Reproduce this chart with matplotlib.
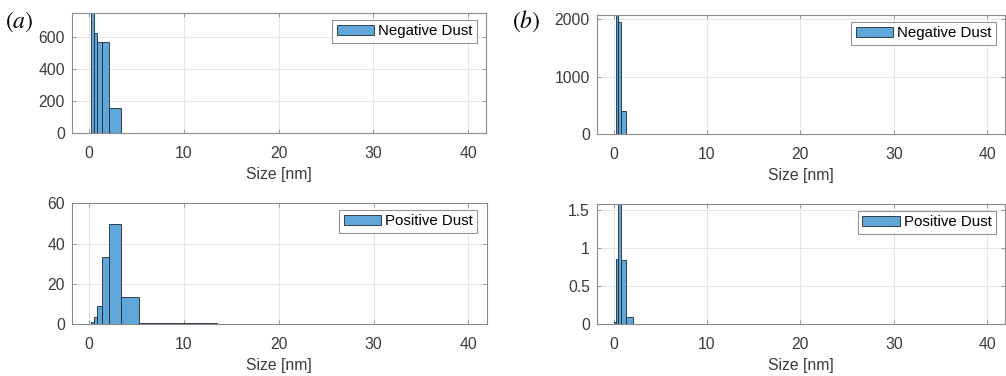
import matplotlib.pyplot as plt
import numpy as np

plt.rcParams['font.family'] = ['Liberation Sans', 'DejaVu Sans']
plt.rcParams['mathtext.fontset'] = 'stix'

# histogram bin edges [nm] and counts
bin_edges = np.array([0.1, 0.22, 0.5, 0.82, 1.32, 2.1, 3.35, 5.3, 8.5, 13.5])
neg_a = [0, 1000, 630, 570, 570, 160, 5, 0, 0]
pos_a = [0, 1.0, 3.5, 9, 33.5, 49.5, 13.5, 0.4, 0.3]
neg_b = [0, 2500, 1950, 400, 10, 3, 0, 0, 0]
pos_b = [0.03, 0.85, 2.5, 0.84, 0.09, 0, 0.005, 0, 0]

x_ticks = [0, 10, 20, 30, 40]
yt_neg_a = [0, 200, 400, 600]
yt_pos_a = [0, 20, 40, 60]
yt_neg_b = [0, 1000, 2000]
yt_pos_b = [0, 0.5, 1, 1.5]
yl_pos_b = ['0', '0.5', '1', '1.5']

W, H = 1006, 376
fig = plt.figure(figsize=(W / 100, H / 100), dpi=100)

def px_axes(l, r, t, b):
    return fig.add_axes([l / W, 1 - b / H, (r - l) / W, (b - t) / H])

bar_col = '#5fa6d9'
edge_col = '#1c2833'
fs = 11.3

def hist_panel(ax, counts, label, yticks, ylim, ylabels=None):
    ax.bar(bin_edges[:-1], counts, width=np.diff(bin_edges), align='edge',
           color=bar_col, edgecolor=edge_col, linewidth=0.6, label=label, zorder=2)
    ax.set_xlim(-1.8, 41.9)
    ax.set_ylim(*ylim)
    ax.set_xticks(x_ticks)
    ax.set_yticks(yticks)
    if ylabels is not None:
        ax.set_yticklabels(ylabels)
    ax.grid(True, color='#e6e6e6', linewidth=0.7, zorder=0)
    ax.set_axisbelow(True)
    for s in ax.spines.values():
        s.set_color('#8a8a8a')
        s.set_linewidth(0.8)
    ax.tick_params(direction='in', length=3, width=0.6, color='#8a8a8a',
                   top=True, right=True, labelsize=fs, labelcolor='#3a3a3a')
    ax.tick_params(axis='x', pad=9.5)
    ax.tick_params(axis='y', pad=5)
    ax.set_xlabel('Size [nm]', fontsize=fs, color='#3a3a3a', labelpad=4)
    leg = ax.legend(loc='upper right', bbox_to_anchor=(0.978, 0.945),
                    borderaxespad=0, fontsize=10.8, frameon=True, fancybox=False,
                    handlelength=2.5, handleheight=0.7, handletextpad=0.25,
                    borderpad=0.3, edgecolor='#7a7a7a')
    leg.get_frame().set_linewidth(0.8)

ax1 = px_axes(72, 486, 13.3, 133.3)
hist_panel(ax1, neg_a, 'Negative Dust', yt_neg_a, (0, 750))
ax2 = px_axes(72, 486.5, 203.3, 324)
hist_panel(ax2, pos_a, 'Positive Dust', yt_pos_a, (0, 60))
ax3 = px_axes(596.7, 1005, 15, 134.3)
hist_panel(ax3, neg_b, 'Negative Dust', yt_neg_b, (0, 2070))
ax4 = px_axes(596.7, 1005, 204.3, 324.3)
hist_panel(ax4, pos_b, 'Positive Dust', yt_pos_b, (0, 1.57), yl_pos_b)

fig.text(5 / W, 1 - 21.5 / H, r'$(a)$', fontsize=17, va='center', ha='left')
fig.text(512 / W, 1 - 21.5 / H, r'$(b)$', fontsize=17, va='center', ha='left')

fig.savefig('out.png', dpi=100)
